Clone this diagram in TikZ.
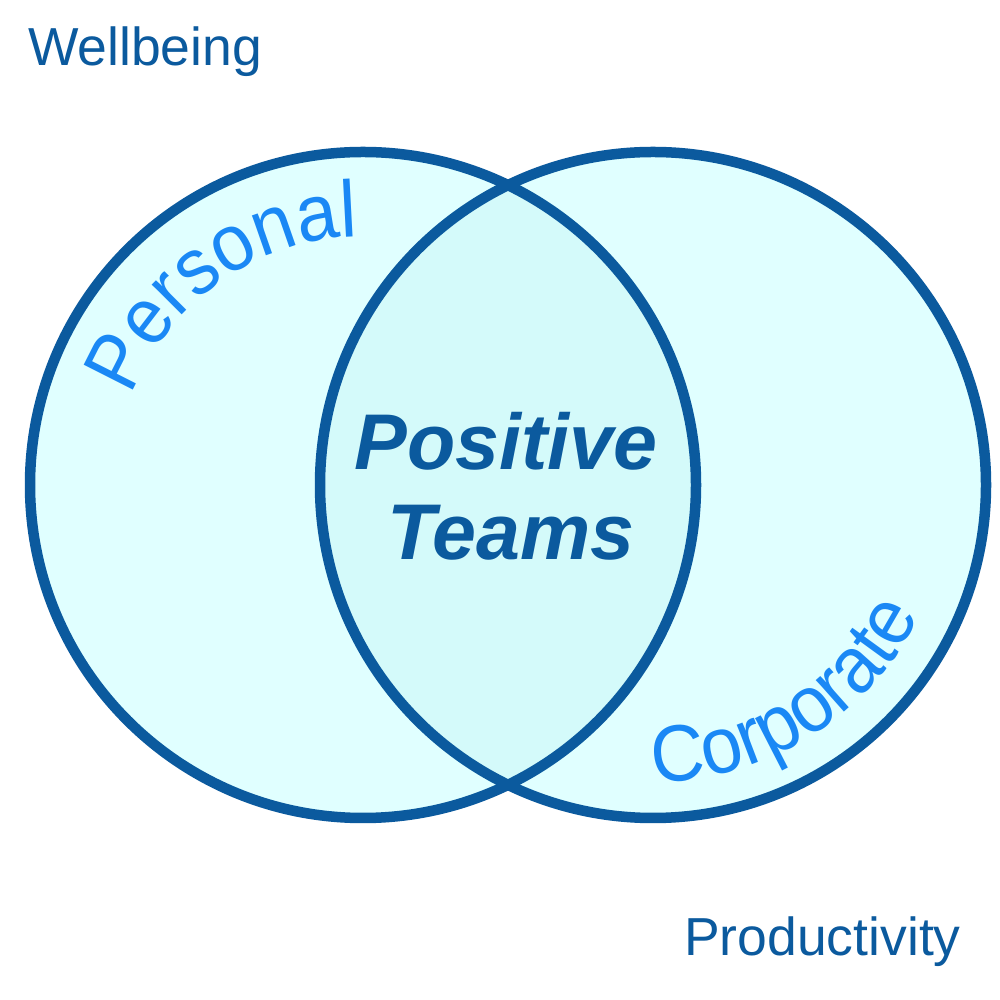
\documentclass[tikz,border=0pt]{standalone}
\usepackage{fontspec}
\setmainfont{Liberation Sans}
\newfontfamily\arcfont[FakeStretch=0.93]{Liberation Sans}
\usetikzlibrary{decorations.text,calc}
\definecolor{ringblue}{RGB}{11,90,158}
\definecolor{fillcyan}{RGB}{224,255,255}
\definecolor{lenscyan}{RGB}{212,250,250}
\definecolor{txtlight}{RGB}{26,136,245}
\tikzset{
  ring/.style={draw=ringblue, line width=10.5pt},
  cornerlabel/.style={text=ringblue, font=\fontsize{53.5}{53.5}\selectfont, inner sep=0pt},
  centerlabel/.style={text=ringblue, font=\fontsize{79}{79}\selectfont\bfseries\itshape, inner sep=0pt},
}
\begin{document}
\begin{tikzpicture}[x=1pt,y=1pt]
\useasboundingbox (0,0) rectangle (1000,1000);
\fill[white] (0,0) rectangle (1000,1000);
\coordinate (cl) at (363,515);
\coordinate (cr) at (653,515);
\fill[fillcyan] (cl) circle[radius=333];
\fill[fillcyan] (cr) circle[radius=333];
\begin{scope}
  \clip (cl) circle[radius=333];
  \fill[lenscyan] (cr) circle[radius=333];
\end{scope}
\draw[ring] (cl) circle[radius=333];
\draw[ring] (cr) circle[radius=333];
% curved labels
\path[decorate, decoration={text along path, text align=center,
  text={|\arcfont\fontsize{80}{80}\selectfont\color{txtlight}|Personal}}]
  ($(cl)+(185:248)$) arc[start angle=185, end angle=65, radius=248];
\path[decorate, decoration={text along path, text align=center,
  text={|\arcfont\fontsize{80}{80}\selectfont\color{txtlight}|Corporate}}]
  ($(cr)+(-120:297)$) arc[start angle=-120, end angle=4, radius=297];
% center text
\node[centerlabel, anchor=base] (pos) at (506,530) {Positive};
\node[centerlabel, anchor=base] (teams) at (511,440) {Teams};
% corner labels
\node[cornerlabel, anchor=base west] (well) at (28,934) {Wellbeing};
\node[cornerlabel, anchor=base west] (prod) at (684,44) {Productivity};
\end{tikzpicture}
\end{document}
